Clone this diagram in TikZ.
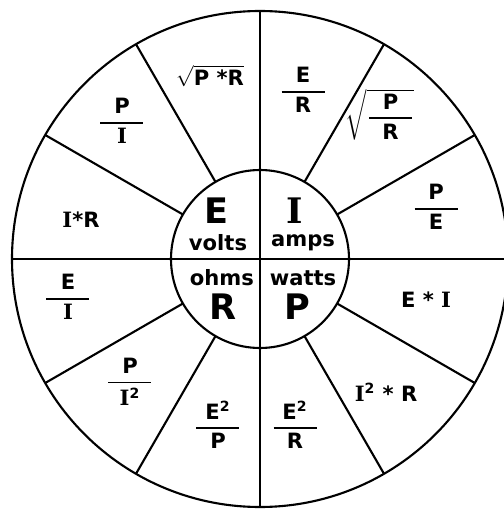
\documentclass[tikz,border=0pt]{standalone}
\usepackage{amsmath}
\usepackage{fontspec}
\setmainfont{DejaVu Sans}
\newfontfamily\serifI{DejaVu Serif}
\usepackage{tikz}
\tikzset{
    wheel/.style={line width=1.2pt},
    quantlbl/.style={font=\fontsize{20}{22}\selectfont\bfseries, inner sep=0pt},
    unitlbl/.style={font=\fontsize{12}{14}\selectfont\bfseries, inner sep=0pt},
    formlbl/.style={font=\fontsize{12}{14}\selectfont\bfseries, inner sep=1pt},
}
\newcommand\Iser{{\serifI I}}
\newcommand\ohmfrac[2]{\genfrac{}{}{0.9pt}{0}{\hbox to 0.86cm{\hfil#1\hfil}}{\hbox to 0.86cm{\hfil#2\hfil}}}

\begin{document}
\begin{tikzpicture}
        \clip (-5.20,-5.04) rectangle (4.88,5.18);
        \draw[wheel] (0,0) circle (4.96);
        \draw[wheel] (0,0) circle (1.78);
        \draw[wheel] (-4.96,0) -- (4.96,0);
        \draw[wheel] (0,-4.96) -- (0,4.96);
        \foreach \a in {30,60,120,150,210,240,300,330}
            \draw[wheel] (\a:1.78) -- (\a:4.96);
        % centre
        \node[quantlbl] (qe) at (-0.86,0.96) {E};
        \node[unitlbl] (volts) at (-0.84,0.32) {volts};
        \node[quantlbl] (qi) at (0.70,0.96) {\Iser};
        \node[unitlbl] (amps) at (0.86,0.32) {amps};
        \node[unitlbl] (ohms) at (-0.76,-0.38) {ohms};
        \node[quantlbl] (qr) at (-0.74,-0.96) {R};
        \node[unitlbl] (watts) at (0.86,-0.38) {watts};
        \node[quantlbl] (qp) at (0.74,-0.96) {P};
        % ring
        \node[formlbl] (er) at (0.86,3.38) {$\ohmfrac{E}{R}$};
        \node[formlbl] (sqpr) at (2.40,2.88) {$\sqrt{\ohmfrac{P}{R}}$};
        \node[formlbl] (pe) at (3.52,1.04) {$\ohmfrac{P}{E}$};
        \node[formlbl] (ei) at (3.32,-0.82) {E * \Iser};
        \node[formlbl] (iir) at (2.52,-2.66) {\Iser\textsuperscript{2} * R};
        \node[formlbl] (eer) at (0.70,-3.32) {$\ohmfrac{E\textsuperscript{2}}{R}$};
        \node[formlbl] (eep) at (-0.84,-3.32) {$\ohmfrac{E\textsuperscript{2}}{P}$};
        \node[formlbl] (pii) at (-2.60,-2.46) {$\ohmfrac{P}{\Iser\textsuperscript{2}}$};
        \node[formlbl] (eoi) at (-3.84,-0.76) {$\ohmfrac{E}{\Iser}$};
        \node[formlbl] (ir) at (-3.58,0.78) {\Iser*R};
        \node[formlbl] (poi) at (-2.76,2.76) {$\ohmfrac{P}{\Iser}$};
        \node[formlbl] (sqpxr) at (-1.00,3.66) {$\sqrt{\hbox{P *R}}$};
    \end{tikzpicture}
\end{document}
